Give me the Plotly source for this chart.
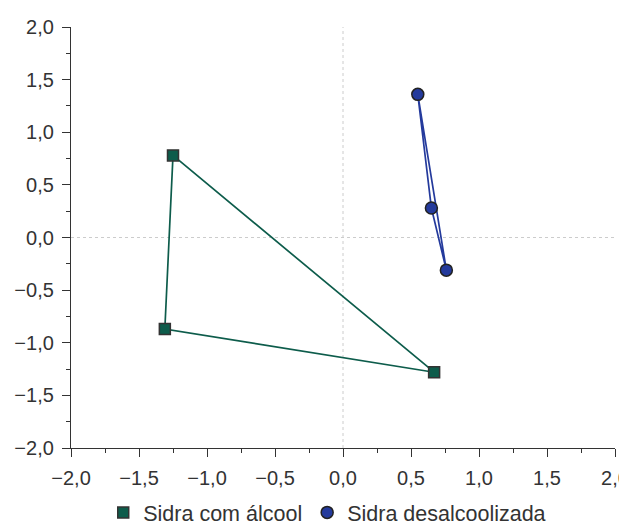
import plotly.graph_objects as go

# Data
alc_x = [-1.25, -1.31, 0.67]
alc_y = [0.78, -0.87, -1.28]
des_x = [0.55, 0.65, 0.76]
des_y = [1.36, 0.28, -0.31]
series_names = ["Sidra com álcool", "Sidra desalcoolizada"]
tick_vals = [-2.0, -1.5, -1.0, -0.5, 0.0, 0.5, 1.0, 1.5, 2.0]

green = "#0d5c4b"
blue = "#243a9c"

fig = go.Figure()
# closed outlines (no legend)
fig.add_trace(go.Scatter(
    x=alc_x + alc_x[:1], y=alc_y + alc_y[:1], mode="lines",
    line=dict(color=green, width=1.7), showlegend=False, hoverinfo="skip",
))
fig.add_trace(go.Scatter(
    x=des_x + des_x[:1], y=des_y + des_y[:1], mode="lines",
    line=dict(color=blue, width=1.7), showlegend=False, hoverinfo="skip",
))
# markers (legend)
fig.add_trace(go.Scatter(
    x=alc_x, y=alc_y, mode="markers", name=series_names[0],
    marker=dict(symbol="square", size=11, color=green, line=dict(color="#333333", width=1.5)),
))
fig.add_trace(go.Scatter(
    x=des_x, y=des_y, mode="markers", name=series_names[1],
    marker=dict(symbol="circle", size=12, color=blue, line=dict(color="#222222", width=1.5)),
))

for kw in [dict(x0=0, x1=0, xref="x", y0=0, y1=1, yref="paper"),
           dict(y0=0, y1=0, yref="y", x0=0, x1=1, xref="paper")]:
    fig.add_shape(type="line", line=dict(color="#cccccc", width=1, dash="dot"), layer="below", **kw)

axis_common = dict(
    range=[-2, 2], tickvals=tick_vals, tickformat=".1f", automargin=False,
    ticklabeloverflow="allow",
    showgrid=False, zeroline=False, showline=True, linecolor="#333333", linewidth=1.3,
    ticks="outside", ticklen=8, tickwidth=1.2, tickcolor="#333333",
    minor=dict(dtick=0.25, ticks="outside", ticklen=4, tickwidth=1.2, tickcolor="#333333", showgrid=False),
    tickfont=dict(size=20, color="#333333"),
)
fig.update_xaxes(ticklabelstandoff=4, **axis_common)
fig.update_yaxes(ticklabelstandoff=4, **axis_common)

# page body adds an 8px offset; size the figure so the plot lands where the reference has it
fig.update_layout(
    width=619, height=517,
    margin=dict(l=63, r=12, t=19, b=77, autoexpand=False),
    paper_bgcolor="white", plot_bgcolor="white",
    separators=",.",
    font=dict(family="Liberation Sans, Arial, sans-serif", size=20, color="#333333"),
    showlegend=True,
    legend=dict(orientation="h", x=0.471, xanchor="center", y=-0.153, yanchor="middle",
                font=dict(size=21.5, color="#333333"), itemwidth=30, tracegroupgap=0),
)

fig.write_html("out.html")
